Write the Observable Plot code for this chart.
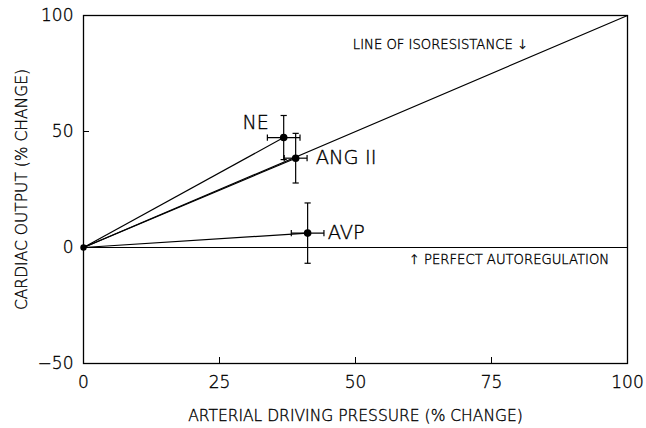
<!DOCTYPE html>
<html><head><meta charset="utf-8">
<script src="https://cdn.jsdelivr.net/npm/d3@7"></script>
<script src="https://cdn.jsdelivr.net/npm/@observablehq/plot@0.6"></script>
<style>
body{margin:0;background:#fff}
svg{font-family:"DejaVu Sans",sans-serif;font-weight:200}
svg text{stroke:#000;stroke-width:0.35px}
</style>
</head><body><div id="chart"></div>
<script>
const drugs = ["NE", "ANG II", "AVP"];
const pressure = [36.8, 39.0, 41.2];
const output = [47.4, 38.5, 6.2];
const pressureErr = [3.0, 2.1, 3.0];
const outputErr = [9.5, 10.7, 13.0];
const xTicks = [0, 25, 50, 75, 100];
const yTicks = [-50, 0, 50, 100];
const xTitle = "ARTERIAL DRIVING PRESSURE (% CHANGE)";
const yTitle = "CARDIAC OUTPUT (% CHANGE)";
const isoLine = [{x: 0, y: 0}, {x: 100, y: 100}];
const autoLine = [{x: 0, y: 0}, {x: 100, y: 0}];
const origin = [{x: 0, y: 0}];
const notes = [
  {x: 49.5, y: 87.5, text: "LINE OF ISORESISTANCE \u2193"},
  {x: 59.8, y: -5.2, text: "\u2191 PERFECT AUTOREGULATION"}
];

const rows = drugs.map((d, i) => ({
  drug: d, x: pressure[i], y: output[i],
  ex: pressureErr[i], ey: outputErr[i]
}));

const hCap = {draw(ctx, size) { const r = Math.sqrt(size) / 2; ctx.moveTo(-r, 0); ctx.lineTo(r, 0); }};
const vCap = {draw(ctx, size) { const r = Math.sqrt(size) / 2; ctx.moveTo(0, -r); ctx.lineTo(0, r); }};

const chart = Plot.plot({
  width: 646,
  height: 428,
  marginLeft: 83,
  marginRight: 19,
  marginTop: 15,
  marginBottom: 65,
  style: {fontFamily: "'DejaVu Sans', sans-serif", background: "#fff", color: "#000"},
  x: {domain: [0, 100]},
  y: {domain: [-50, 100]},
  marks: [
    Plot.frame({stroke: "#000", strokeWidth: 1.3}),
    Plot.axisX(xTicks, {tickSize: 0, tickPadding: 12, fontSize: 17, label: null}),
    Plot.axisX([25, 50, 75], {tickSize: -6, tickFormat: () => "", label: null}),
    Plot.axisY(yTicks, {tickSize: 0, tickPadding: 10, fontSize: 17, label: null}),
    Plot.axisY([50], {tickSize: -6, tickFormat: () => "", label: null}),
    Plot.text([xTitle], {frameAnchor: "bottom", dy: 57, fontSize: 15.5, fill: "#000"}),
    Plot.text([yTitle], {frameAnchor: "left", textAnchor: "middle", dx: -61, rotate: -90, fontSize: 15.5, fill: "#000"}),
    Plot.line(isoLine, {x: "x", y: "y", stroke: "#000", strokeWidth: 1.2}),
    Plot.line(autoLine, {x: "x", y: "y", stroke: "#000", strokeWidth: 1.2}),
    Plot.link(rows, {x1: () => 0, y1: () => 0, x2: "x", y2: "y", stroke: "#000", strokeWidth: 1.2}),
    Plot.link(rows, {x1: d => d.x, x2: d => d.x, y1: d => d.y - d.ey, y2: d => d.y + d.ey, stroke: "#000", strokeWidth: 1.2}),
    Plot.link(rows, {y1: d => d.y, y2: d => d.y, x1: d => d.x - d.ex, x2: d => d.x + d.ex, stroke: "#000", strokeWidth: 1.2}),
    Plot.dot(rows, {x: "x", y: d => d.y + d.ey, symbol: hCap, r: 3.5, stroke: "#000", strokeWidth: 1.2}),
    Plot.dot(rows, {x: "x", y: d => d.y - d.ey, symbol: hCap, r: 3.5, stroke: "#000", strokeWidth: 1.2}),
    Plot.dot(rows, {x: d => d.x + d.ex, y: "y", symbol: vCap, r: 3.5, stroke: "#000", strokeWidth: 1.2}),
    Plot.dot(rows, {x: d => d.x - d.ex, y: "y", symbol: vCap, r: 3.5, stroke: "#000", strokeWidth: 1.2}),
    Plot.dot(rows, {x: "x", y: "y", r: 3.8, fill: "#000"}),
    Plot.dot(origin, {x: "x", y: "y", r: 3.2, fill: "#000"}),
    Plot.text(rows.filter(d => d.drug === "NE"), {x: "x", y: "y", text: "drug", textAnchor: "end", dx: -15, dy: -15, fontSize: 19, fill: "#000"}),
    Plot.text(rows.filter(d => d.drug !== "NE"), {x: "x", y: "y", text: "drug", textAnchor: "start", dx: 20, dy: 0, fontSize: 19.5, fill: "#000"}),
    Plot.text(notes, {x: "x", y: "y", text: "text", textAnchor: "start", fontSize: 13.2, fill: "#000"})
  ]
});
document.getElementById("chart").appendChild(chart);
</script>
</body></html>
